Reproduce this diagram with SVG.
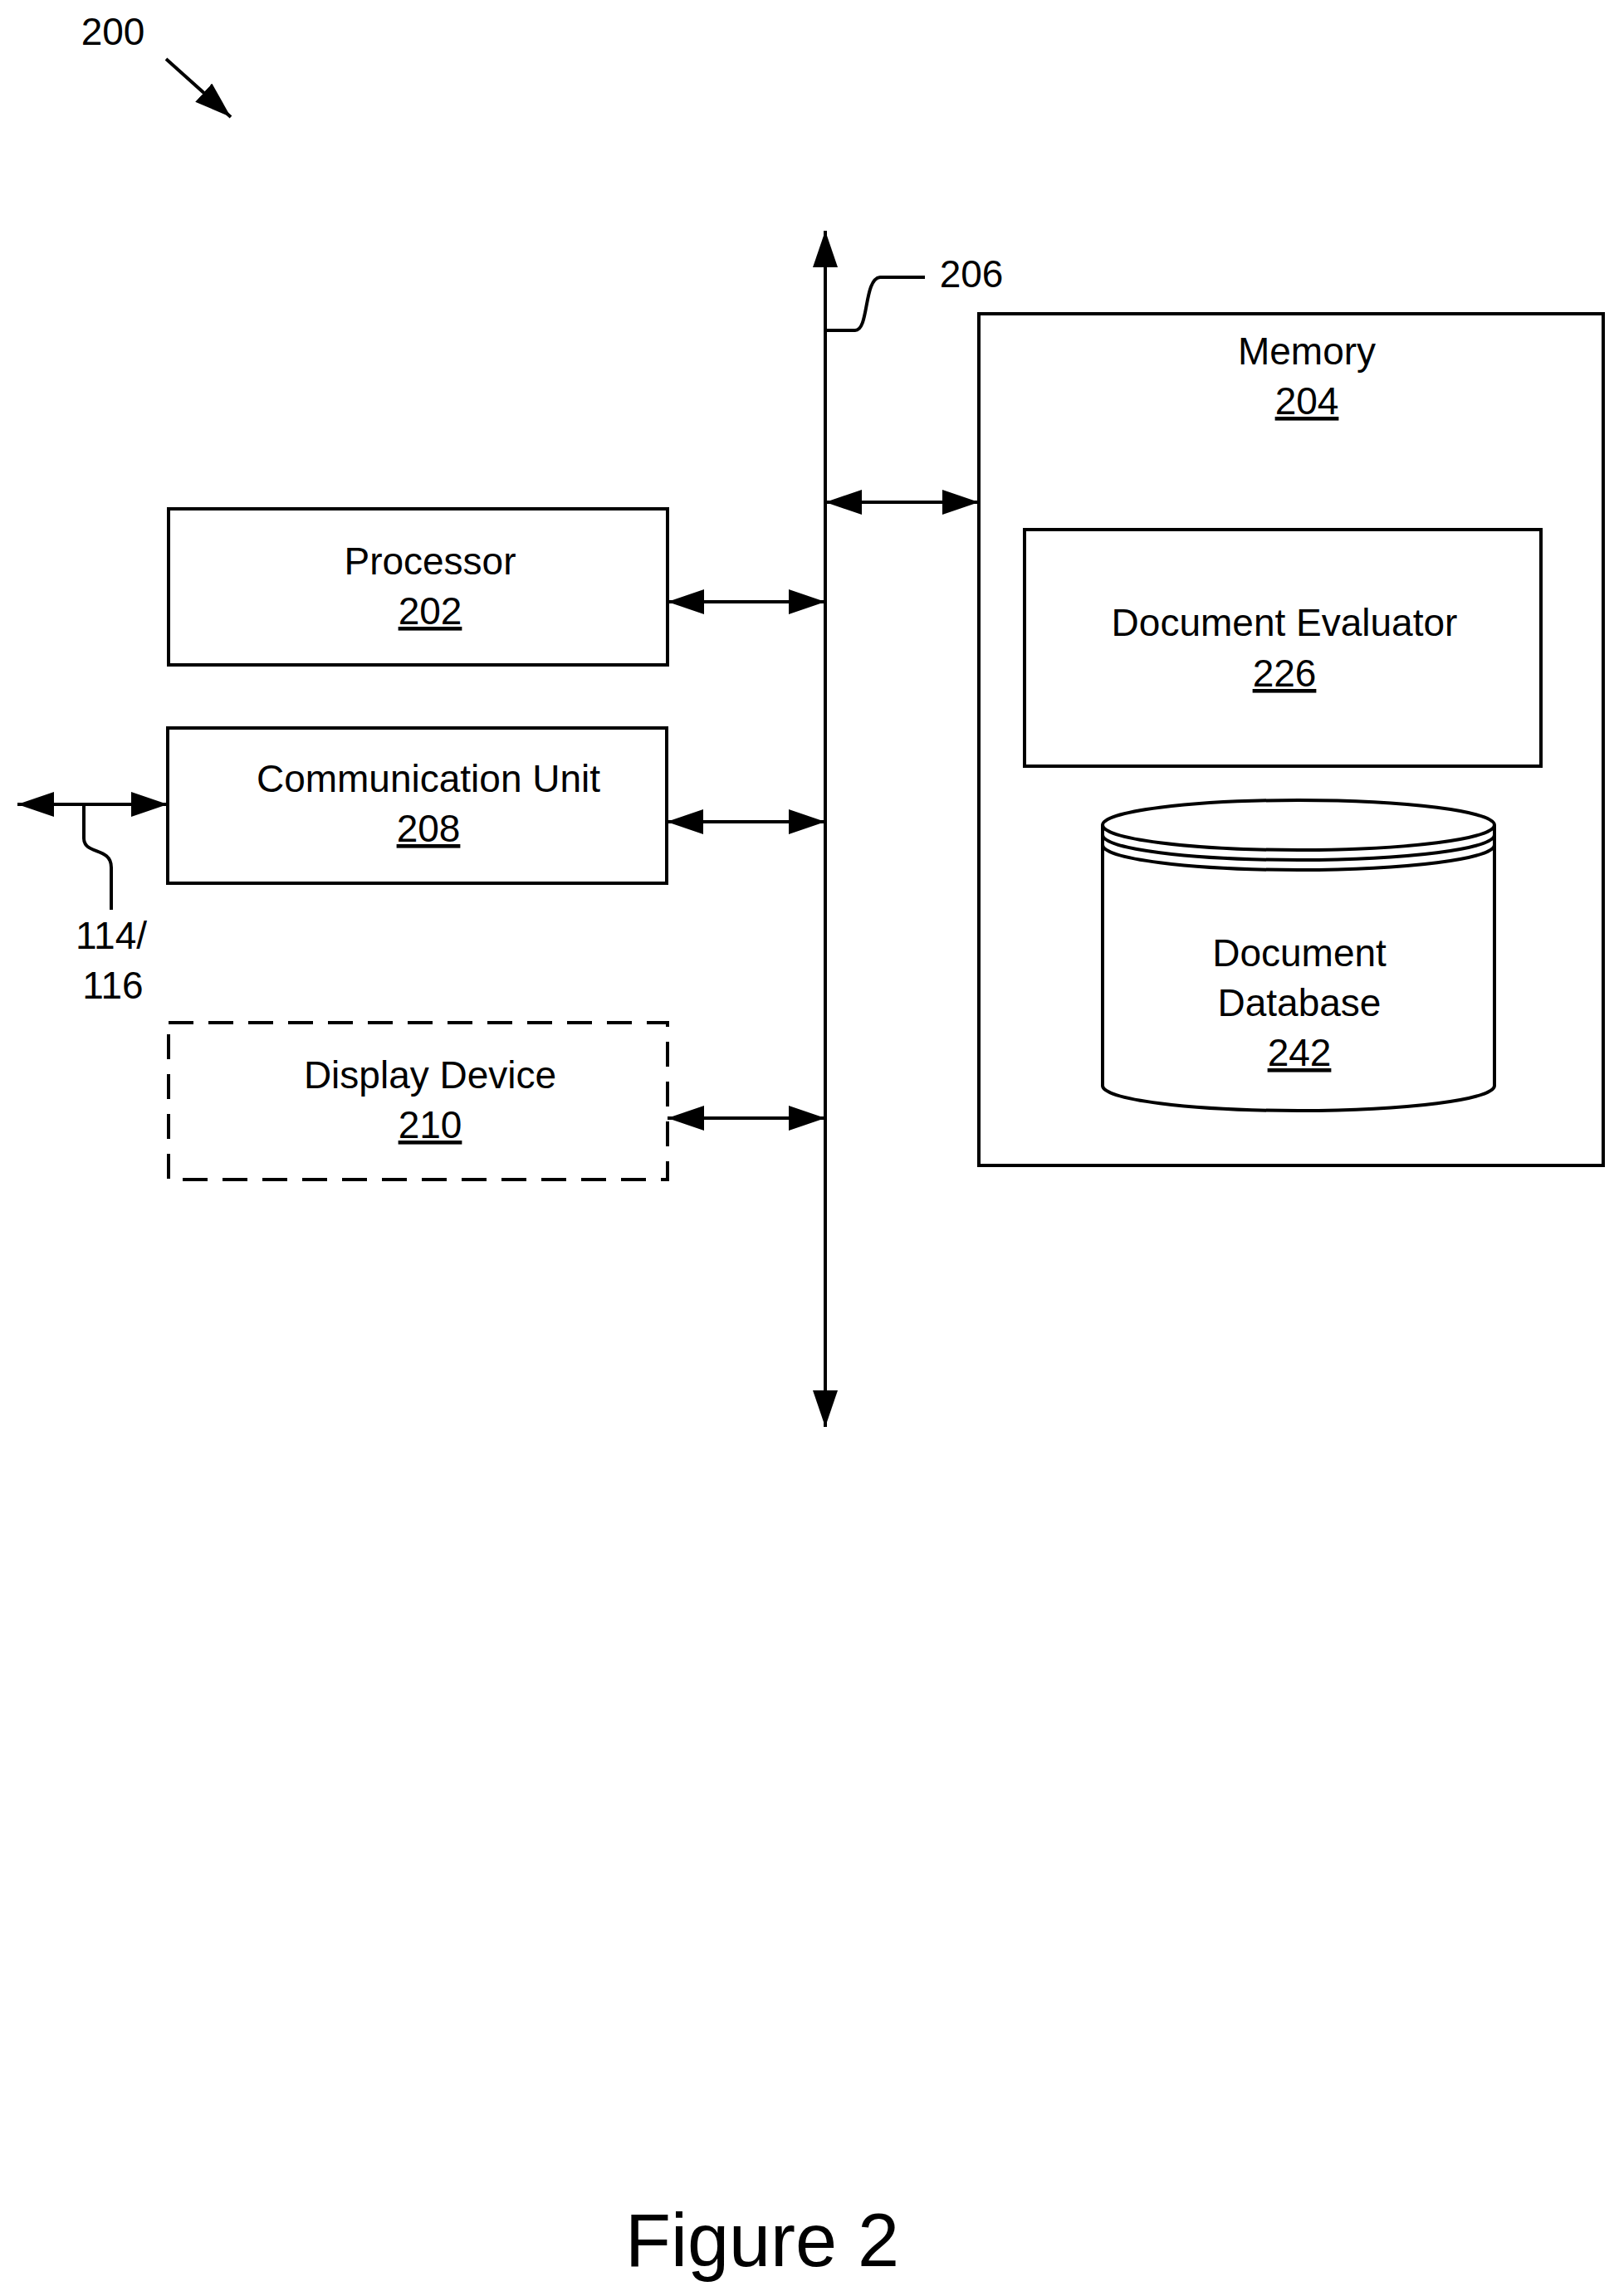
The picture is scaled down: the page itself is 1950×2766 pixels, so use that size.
<svg xmlns="http://www.w3.org/2000/svg" width="1950" height="2766" viewBox="0 0 1950 2766">
<style>
text{font-family:"Liberation Sans",Arial,sans-serif;font-size:46px;fill:#000;text-anchor:middle}
.b{fill:#fff;stroke:#000;stroke-width:4}
.l{fill:none;stroke:#000;stroke-width:4}
</style>
<defs>
<marker id="a" viewBox="0 0 10 10" refX="10" refY="5" markerWidth="8" markerHeight="8" markerUnits="userSpaceOnUse" orient="auto-start-reverse" style="overflow:visible">
<path d="M0,0 L10,5 L0,10 z" fill="#000" transform="scale(4.2)" />
</marker>
<marker id="h" viewBox="0 0 44 30" refX="44" refY="15" markerWidth="44" markerHeight="30" markerUnits="userSpaceOnUse" orient="auto-start-reverse">
<path d="M0,0 L44,15 L0,30 z" fill="#000"/>
</marker>
</defs>
<rect width="1950" height="2766" fill="#fff"/>
<text x="136" y="54">200</text>
<text x="1170" y="346">206</text>
<text x="918" y="2730" style="font-size:90px">Figure 2</text>
<g id="connectors">
<line class="l" x1="200" y1="71" x2="278" y2="141" marker-end="url(#h)"/>
<line class="l" x1="994" y1="278" x2="994" y2="1719" marker-start="url(#h)" marker-end="url(#h)"/>
<path class="l" d="M994,398 H1030 C1047,398 1040,336 1060,334 H1114"/>
<line class="l" x1="994" y1="605" x2="1179" y2="605" marker-start="url(#h)" marker-end="url(#h)"/>
<line class="l" x1="804" y1="725" x2="994" y2="725" marker-start="url(#h)" marker-end="url(#h)"/>
<line class="l" x1="803" y1="990" x2="994" y2="990" marker-start="url(#h)" marker-end="url(#h)"/>
<line class="l" x1="804" y1="1347" x2="994" y2="1347" marker-start="url(#h)" marker-end="url(#h)"/>
<line class="l" x1="21" y1="969" x2="202" y2="969" marker-start="url(#h)" marker-end="url(#h)"/>
<path class="l" d="M101,969 V1010 C101,1030 134,1020 134,1045 V1096"/>
<text x="134" y="1143">114/</text>
<text x="136" y="1203">116</text>
</g>
<g id="memory">
<rect class="b" x="1179" y="378" width="752" height="1026"/>
<text x="1574" y="439">Memory</text>
<text x="1574" y="499" text-decoration="underline">204</text>
</g>
<g id="processor">
<rect class="b" x="203" y="613" width="601" height="188"/>
<text x="518" y="692">Processor</text>
<text x="518" y="752" text-decoration="underline">202</text>
</g>
<g id="comm">
<rect class="b" x="202" y="877" width="601" height="187"/>
<text x="516" y="954">Communication Unit</text>
<text x="516" y="1014" text-decoration="underline">208</text>
</g>
<g id="display">
<rect class="b" x="203" y="1232" width="601" height="189" stroke-dasharray="30,18"/>
<text x="518" y="1311">Display Device</text>
<text x="518" y="1371" text-decoration="underline">210</text>
</g>
<g id="evaluator">
<rect class="b" x="1234" y="638" width="622" height="285"/>
<text x="1547" y="766">Document Evaluator</text>
<text x="1547" y="827" text-decoration="underline">226</text>
</g>
<g id="database">
<path class="b" d="M1328,994 V1308 A236,30 0 0 0 1800,1308 V994"/>
<ellipse class="b" cx="1564" cy="994" rx="236" ry="30"/>
<path class="l" d="M1328,1006 A236,30 0 0 0 1800,1006 M1328,1018 A236,30 0 0 0 1800,1018"/>
<text x="1565" y="1164">Document</text>
<text x="1565" y="1224">Database</text>
<text x="1565" y="1284" text-decoration="underline">242</text>
</g>
</svg>
